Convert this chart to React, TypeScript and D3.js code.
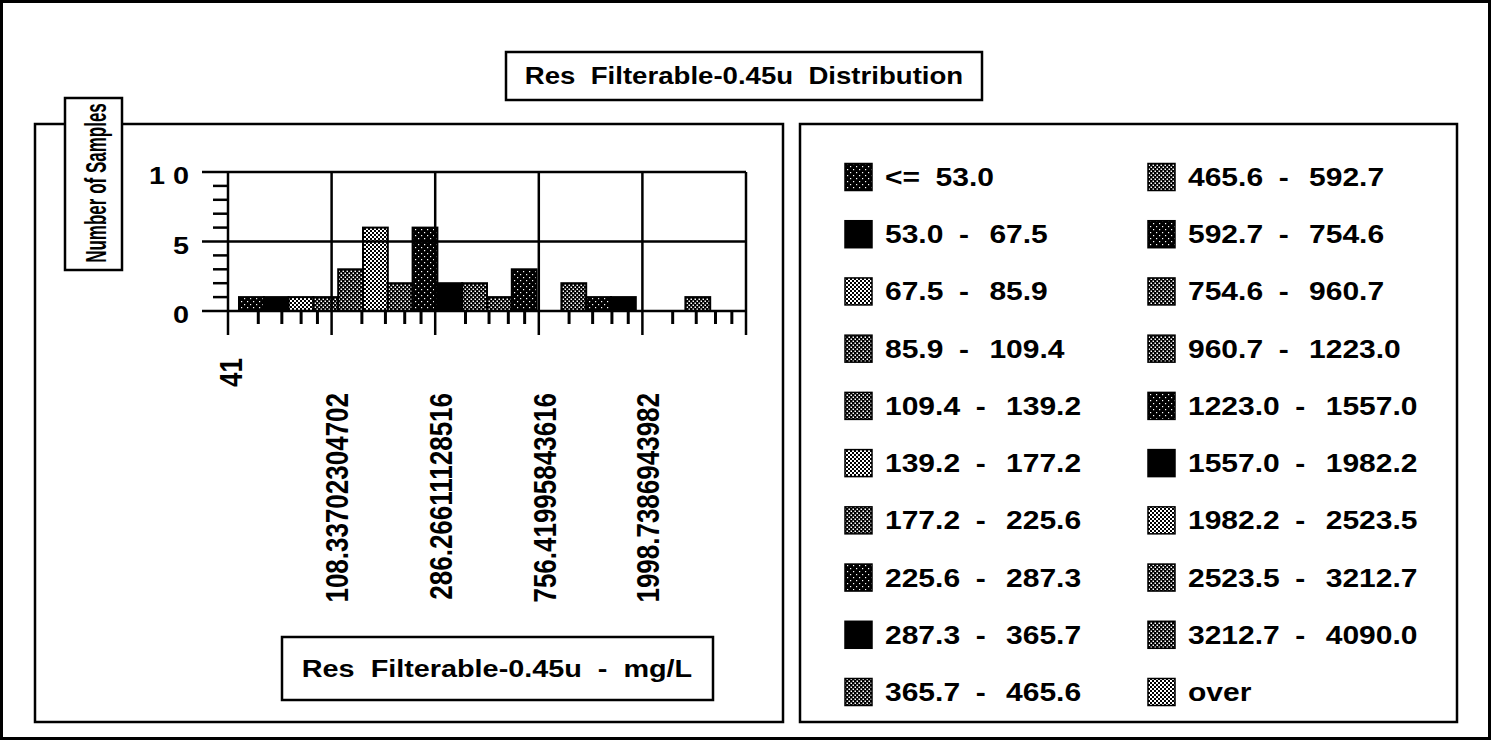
import React, { useEffect, useRef } from 'react';
import * as d3 from 'd3';

// upper bin edges (mg/L) as printed in the legend
const binEdges = ['53.0', '67.5', '85.9', '109.4', '139.2', '177.2', '225.6', '287.3', '365.7', '465.6',
  '592.7', '754.6', '960.7', '1223.0', '1557.0', '1982.2', '2523.5', '3212.7', '4090.0'];

// number of samples per bin (20 bins: <=53.0 ... over)
const sampleCounts = [1, 1, 1, 1, 3, 6, 2, 6, 2, 2, 1, 3, 0, 2, 1, 1, 0, 0, 1, 0];

// fill style per bin
const binFills = ['dark', 'black', 'light', 'dots', 'dots', 'light', 'dots', 'dark', 'black', 'dots',
  'dots', 'dark', 'dots', 'dots', 'dark', 'black', 'light', 'dots', 'dots', 'light'];

// x axis major ticks (log scale) and their printed labels
const xMajorTicks = [41, 108.33702304702, 286.26611128516, 756.41995843616, 1998.7386943982, 5281.4];
const xTickLabels = ['41', '108.33702304702', '286.26611128516', '756.41995843616', '1998.7386943982'];

const yMajorTicks = [0, 5, 10];
const yTickLabels = ['0', '5', '1 0'];

const title = 'Res  Filterable-0.45u  Distribution';
const xTitle = 'Res  Filterable-0.45u  -  mg/L';
const yTitle = 'Number of Samples';

const FONT = "'Liberation Sans', Arial, Helvetica, sans-serif";
const SX = 1.2; // the scanned type is stretched horizontally

const App: React.FC = () => {
  const svgRef = useRef<SVGSVGElement>(null);

  useEffect(() => {
    if (!svgRef.current) return;
    const svg = d3.select(svgRef.current);
    svg.selectAll('*').remove();

    // fill patterns
    const defs = svg.append('defs');
    const dots = defs.append('pattern').attr('id', 'p-dots').attr('patternUnits', 'userSpaceOnUse')
      .attr('width', 4).attr('height', 4);
    dots.append('rect').attr('width', 4).attr('height', 4).attr('fill', '#000');
    dots.append('rect').attr('x', 0.5).attr('y', 0.5).attr('width', 1.5).attr('height', 1.5).attr('fill', '#fff');
    dots.append('rect').attr('x', 2.5).attr('y', 2.5).attr('width', 1.5).attr('height', 1.5).attr('fill', '#fff');

    const light = defs.append('pattern').attr('id', 'p-light').attr('patternUnits', 'userSpaceOnUse')
      .attr('width', 4).attr('height', 4);
    light.append('rect').attr('width', 4).attr('height', 4).attr('fill', '#fff');
    light.append('rect').attr('x', 0).attr('y', 0).attr('width', 2).attr('height', 2).attr('fill', '#000');
    light.append('rect').attr('x', 2).attr('y', 2).attr('width', 2).attr('height', 2).attr('fill', '#000');

    const dark = defs.append('pattern').attr('id', 'p-dark').attr('patternUnits', 'userSpaceOnUse')
      .attr('width', 6).attr('height', 6);
    dark.append('rect').attr('width', 6).attr('height', 6).attr('fill', '#000');
    dark.append('rect').attr('x', 1).attr('y', 1).attr('width', 1.2).attr('height', 1.2).attr('fill', '#fff');
    dark.append('rect').attr('x', 4).attr('y', 4).attr('width', 1.2).attr('height', 1.2).attr('fill', '#fff');

    const fillOf = (k: string) => (k === 'black' ? '#000' : `url(#p-${k})`);

    const text = (
      parent: d3.Selection<any, any, any, any>,
      x: number, y: number, s: string, size: number,
      anchor = 'middle', rotate = false, sx = SX, sy = 1
    ) => parent.append('text')
      .attr('transform', `translate(${x},${y}) scale(${sx},${sy})${rotate ? ' rotate(-90)' : ''}`)
      .attr('text-anchor', anchor)
      .attr('dominant-baseline', 'central')
      .attr('font-family', FONT)
      .attr('font-weight', 'bold')
      .attr('font-size', size)
      .style('white-space', 'pre')
      .attr('fill', '#000')
      .text(s);

    const box = (x0: number, y0: number, x1: number, y1: number, sw = 2.5) =>
      svg.append('rect').attr('x', x0).attr('y', y0).attr('width', x1 - x0).attr('height', y1 - y0)
        .attr('fill', '#fff').attr('stroke', '#000').attr('stroke-width', sw);

    // outer frame and panels
    box(1.5, 1.5, 1489.5, 738.5, 3);
    box(506, 52, 982, 100);
    text(svg, 744, 76, title, 23);
    box(35, 124, 783, 722);
    box(800, 124, 1457, 722);

    // ---- histogram ----
    const x = d3.scaleLog().domain([xMajorTicks[0], xMajorTicks[xMajorTicks.length - 1]]).range([228, 746]);
    const y = d3.scaleLinear().domain([0, 10]).range([311, 172]);
    const xBand = d3.scaleBand<number>().domain(d3.range(sampleCounts.length)).range([239, 735]).padding(0);

    const plot = svg.append('g');
    const line = (x1: number, y1: number, x2: number, y2: number, w = 2.5) =>
      plot.append('line').attr('x1', x1).attr('y1', y1).attr('x2', x2).attr('y2', y2)
        .attr('stroke', '#000').attr('stroke-width', w);

    // bars
    plot.selectAll('rect.bar')
      .data(sampleCounts.map((v, i) => ({ v, i })).filter(d => d.v > 0))
      .enter()
      .append('rect')
      .attr('class', 'bar')
      .attr('x', d => xBand(d.i) ?? 0)
      .attr('y', d => y(d.v))
      .attr('width', xBand.bandwidth())
      .attr('height', d => y(0) - y(d.v))
      .attr('fill', d => fillOf(binFills[d.i]))
      .attr('stroke', '#000')
      .attr('stroke-width', 2);

    // horizontal grid + major y ticks
    yMajorTicks.forEach(v => line(202, y(v), x.range()[1], y(v)));
    // minor y ticks
    d3.range(1, 10).filter(v => v !== 5).forEach(v => line(213, y(v), x.range()[0], y(v), 2.5));

    // vertical grid at major x ticks, extended as tick marks below the axis
    xMajorTicks.forEach(v => line(x(v), y(10), x(v), y(0) + 24));
    // minor x ticks: linear fifths inside each major interval
    xMajorTicks.slice(0, -1).forEach((a, i) => {
      const b = xMajorTicks[i + 1];
      d3.range(1, 5).forEach(k => {
        const v = a + ((b - a) * k) / 5;
        line(x(v), y(0), x(v), y(0) + 13, 3);
      });
    });

    // y tick labels
    yMajorTicks.forEach((v, i) => text(plot, 189, y(v) + 4, yTickLabels[i], 24, 'end'));

    // x tick labels (rotated)
    xTickLabels.forEach((s, i) => {
      const top = i === 0 ? 358 : 393;
      text(plot, x(xMajorTicks[i]) + (i === 0 ? 3 : 6), top, s, 26, 'end', true);
    });

    // y title box (type is squeezed along its length)
    box(65, 98, 122, 270);
    text(svg, 96, 183, yTitle, 25, 'middle', true, 1.2, 0.68);

    // x title box
    box(282, 637, 713, 700);
    text(svg, 497, 669, xTitle, 24);

    // ---- legend ----
    const labels = ['<=|' + binEdges[0]]
      .concat(binEdges.slice(1).map((e, i) => `${binEdges[i]}|-|${e}`))
      .concat(['over']);
    const rowY = d3.scaleLinear().domain([0, 9]).range([177, 692]);
    const colX = [845, 1148];

    labels.forEach((lab, i) => {
      const col = Math.floor(i / 10);
      const cy = rowY(i % 10);
      const sx0 = colX[col];
      svg.append('rect')
        .attr('x', sx0).attr('y', cy - 13.5).attr('width', 27).attr('height', 27)
        .attr('fill', fillOf(binFills[i])).attr('stroke', '#000').attr('stroke-width', 1.5);
      const t = text(svg, sx0 + 40, cy, '', 25, 'start');
      lab.split('|').forEach((part, j) => {
        t.append('tspan').attr('dx', j === 0 ? 0 : (part === '-' || lab.startsWith('<') ? 13 : 17)).text(part);
      });
    });
  }, []);

  return (
    <svg
      ref={svgRef}
      width={1491}
      height={740}
      style={{ position: 'absolute', left: 0, top: 0, background: '#fff' }}
    />
  );
};

export default App;
